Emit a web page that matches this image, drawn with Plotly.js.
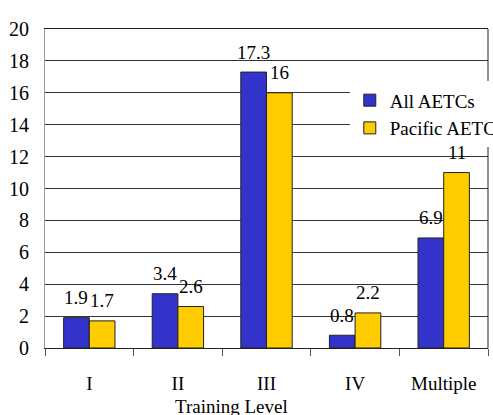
<!DOCTYPE html>
<html>
<head>
<meta charset="utf-8">
<script src="https://cdn.plot.ly/plotly-3.0.1.min.js"></script>
<style>
  html, body { margin: 0; padding: 0; background: #fff; }
  #chart { width: 493px; height: 415px; }
</style>
</head>
<body>
<div id="chart"></div>
<script>
// Training levels on the category axis
const levels = ['I', 'II', 'III', 'IV', 'Multiple'];

// Series values (percent)
const allAetcs = [1.9, 3.4, 17.3, 0.8, 6.9];
const pacificAetc = [1.7, 2.6, 16, 2.2, 11];

const seriesNames = ['All AETCs', 'Pacific AETC'];
const yTicks = [0, 2, 4, 6, 8, 10, 12, 14, 16, 18, 20];

const SERIF = 'Liberation Serif';
const BLUE = '#3333CC';
const GOLD = '#FFCC00';

const W = 493, H = 415;
const margin = {l: 45, r: 5, t: 29, b: 67, pad: 0};
const bargap = 0.42;

// half of a single bar's width in pixels, used to centre the value labels
const plotW = W - margin.l - margin.r;
const catW = plotW / levels.length;
const halfBar = catW * (1 - bargap) / 4;

const traces = [
  {
    type: 'bar', name: seriesNames[0], x: levels, y: allAetcs,
    marker: {color: BLUE, line: {color: '#222', width: 1}},
    hoverinfo: 'x+y'
  },
  {
    type: 'bar', name: seriesNames[1], x: levels, y: pacificAetc,
    marker: {color: GOLD, line: {color: '#222', width: 1}},
    hoverinfo: 'x+y'
  }
];

// value labels above each bar
const annotations = [];
[allAetcs, pacificAetc].forEach((vals, s) => {
  vals.forEach((v, i) => {
    annotations.push({
      x: levels[i], y: v, xref: 'x', yref: 'y',
      text: String(v), showarrow: false,
      xanchor: 'center', yanchor: 'middle',
      xshift: s === 0 ? -halfBar : halfBar, yshift: 20,
      font: {family: SERIF, size: 19, color: '#000'}
    });
  });
});

// axis title placed below the category labels
annotations.push({
  xref: 'paper', yref: 'paper', x: 0.42, y: -0.182,
  text: 'Training Level', showarrow: false,
  xanchor: 'center', yanchor: 'middle',
  font: {family: SERIF, size: 19, color: '#000'}
});

const layout = {
  width: W, height: H,
  margin: Object.assign({autoexpand: false}, margin),
  paper_bgcolor: '#fff', plot_bgcolor: '#fff',
  barmode: 'group', bargap: bargap, bargroupgap: 0,
  showlegend: true,
  legend: {
    x: 0.688, y: 0.836, xanchor: 'left', yanchor: 'top',
    bgcolor: '#fff', borderwidth: 0,
    font: {family: SERIF, size: 19, color: '#000'},
    tracegroupgap: 0
  },
  xaxis: {
    type: 'category',
    showline: true, linecolor: '#222', linewidth: 1, mirror: true,
    ticks: 'outside', tickson: 'boundaries', ticklen: 7, tickcolor: '#555',
    ticklabelstandoff: 18,
    showgrid: false, zeroline: false,
    tickfont: {family: SERIF, size: 19, color: '#000'}
  },
  yaxis: {
    range: [0, 20], tickvals: yTicks, ticktext: yTicks.map(String),
    showline: true, linecolor: '#999', linewidth: 1,
    showgrid: true, gridcolor: '#333', gridwidth: 1,
    zeroline: false, ticks: '',
    ticklabelstandoff: 11,
    tickfont: {family: SERIF, size: 20, color: '#000'}
  },
  shapes: [
    // right frame edge
    {type: 'line', xref: 'paper', yref: 'paper', x0: 1, x1: 1, y0: 0, y1: 1,
     line: {color: '#222', width: 1}, layer: 'above'}
  ],
  annotations: annotations
};

Plotly.newPlot('chart', traces, layout, {displayModeBar: false, staticPlot: true});
</script>
</body>
</html>
